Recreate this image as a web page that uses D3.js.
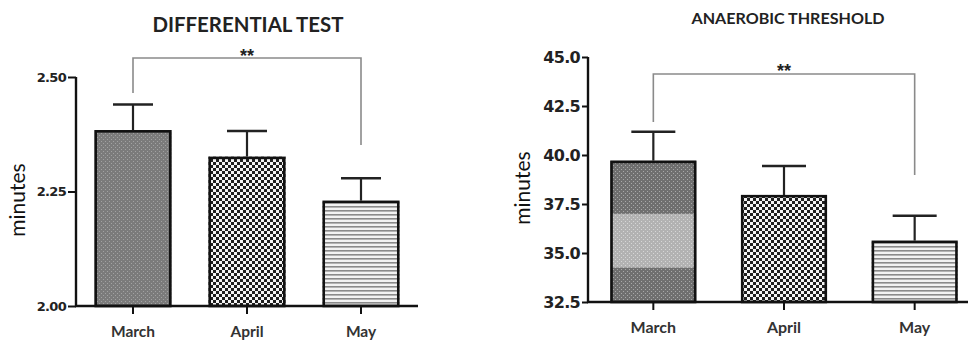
<!DOCTYPE html>
<html>
<head>
<meta charset="utf-8">
<script src="https://cdn.jsdelivr.net/npm/d3@7"></script>
<style>
  body { margin: 0; background: #fff; }
  svg { display: block; }
</style>
</head>
<body>
<svg id="chart" width="968" height="344"></svg>
<script>
// ---------- data ----------
const months = ["March", "April", "May"];

const diffTitle = "DIFFERENTIAL TEST";
const diffMeans = [2.384, 2.326, 2.230];
const diffUpper = [2.440, 2.382, 2.279];
const diffTicks = [2.00, 2.25, 2.50];
const diffDomain = [2.0, 2.5];

const atTitle = "ANAEROBIC THRESHOLD";
const atMeans = [39.71, 37.96, 35.63];
const atUpper = [41.19, 39.44, 36.90];
const atTicks = [32.5, 35.0, 37.5, 40.0, 42.5, 45.0];
const atDomain = [32.5, 45.0];
const atMarchLightBand = [34.25, 37.0];   // lighter shading inside the March bar

const sigPair = ["March", "May"];
const sigLabel = "**";
const yLabel = "minutes";

// ---------- drawing ----------
const svg = d3.select("#chart");
const defs = svg.append("defs");

function dotPattern(id, bg, dot) {
  const p = defs.append("pattern").attr("id", id).attr("patternUnits", "userSpaceOnUse")
    .attr("width", 4).attr("height", 4);
  p.append("rect").attr("width", 4).attr("height", 4).attr("fill", bg);
  p.append("rect").attr("x", 1).attr("y", 1).attr("width", 1).attr("height", 1).attr("fill", dot);
  p.append("rect").attr("x", 3).attr("y", 3).attr("width", 1).attr("height", 1).attr("fill", dot);
}
dotPattern("marchL", "#7b7b7b", "#a2a2a2");
dotPattern("marchR", "#6f6f6f", "#a8a8a8");
dotPattern("marchRLight", "#b2b2b2", "#d6d6d6");

(function () {
  const p = defs.append("pattern").attr("id", "april").attr("patternUnits", "userSpaceOnUse")
    .attr("width", 6).attr("height", 6);
  p.append("rect").attr("width", 6).attr("height", 6).attr("fill", "#1e1e1e");
  p.append("rect").attr("x", 0).attr("y", 0).attr("width", 3).attr("height", 3).attr("fill", "#f4f4f4");
  p.append("rect").attr("x", 3).attr("y", 3).attr("width", 3).attr("height", 3).attr("fill", "#f4f4f4");
})();

(function () {
  const p = defs.append("pattern").attr("id", "may").attr("patternUnits", "userSpaceOnUse")
    .attr("width", 4).attr("height", 4);
  p.append("rect").attr("width", 4).attr("height", 4).attr("fill", "#f2f2f2");
  p.append("rect").attr("y", 2).attr("width", 4).attr("height", 1.6).attr("fill", "#8a8a8a");
})();

function drawChart(cfg) {
  const g = svg.append("g");
  const x = d3.scaleBand().domain(months).range(cfg.xRange)
    .paddingInner(cfg.pad).paddingOuter(cfg.pad / 2);
  const y = d3.scaleLinear().domain(cfg.domain).range(cfg.yRange);

  g.append("text")
    .attr("x", cfg.titleX).attr("y", cfg.titleY)
    .attr("text-anchor", "middle")
    .attr("font-family", "Lato, 'Open Sans', sans-serif")
    .attr("font-weight", "bold")
    .attr("font-size", cfg.titleSize)
    .attr("textLength", cfg.titleLen)
    .attr("lengthAdjust", "spacingAndGlyphs")
    .attr("fill", "#222")
    .text(cfg.title);

  g.append("text")
    .attr("transform", `translate(${cfg.yLabelX},${cfg.yLabelY}) rotate(-90)`)
    .attr("text-anchor", "middle")
    .attr("font-family", "Lato, 'Open Sans', sans-serif")
    .attr("font-size", cfg.yLabelSize)
    .attr("fill", "#111")
    .text(yLabel);

  const fills = cfg.fills;

  g.selectAll("rect.bar").data(months).join("rect")
    .attr("class", "bar")
    .attr("x", d => x(d))
    .attr("y", (d, i) => y(cfg.means[i]))
    .attr("width", x.bandwidth())
    .attr("height", (d, i) => y(cfg.domain[0]) - y(cfg.means[i]))
    .attr("fill", (d, i) => `url(#${fills[i]})`);

  if (cfg.band) {
    g.append("rect")
      .attr("x", x(months[0]))
      .attr("y", y(cfg.band[1]))
      .attr("width", x.bandwidth())
      .attr("height", y(cfg.band[0]) - y(cfg.band[1]))
      .attr("fill", "url(#marchRLight)");
  }

  g.selectAll("rect.outline").data(months).join("rect")
    .attr("class", "outline")
    .attr("x", d => x(d) + 1.2)
    .attr("y", (d, i) => y(cfg.means[i]) + 1.2)
    .attr("width", x.bandwidth() - 2.4)
    .attr("height", (d, i) => y(cfg.domain[0]) - y(cfg.means[i]) - 1.2)
    .attr("fill", "none")
    .attr("stroke", "#111")
    .attr("stroke-width", 2.6);

  const cx = d => x(d) + x.bandwidth() / 2;
  g.selectAll("line.err").data(months).join("line")
    .attr("class", "err")
    .attr("x1", cx).attr("x2", cx)
    .attr("y1", (d, i) => y(cfg.means[i]))
    .attr("y2", (d, i) => y(cfg.upper[i]))
    .attr("stroke", "#222").attr("stroke-width", 2.2);
  g.selectAll("line.cap").data(months).join("line")
    .attr("class", "cap")
    .attr("x1", d => cx(d) - cfg.capHalf).attr("x2", d => cx(d) + cfg.capHalf)
    .attr("y1", (d, i) => y(cfg.upper[i]))
    .attr("y2", (d, i) => y(cfg.upper[i]))
    .attr("stroke", "#222").attr("stroke-width", 2.6);

  const yAxis = d3.axisLeft(y).tickValues(cfg.ticks).tickSize(cfg.yTick).tickPadding(2)
    .tickFormat(d => cfg.fmt(d));
  const ya = g.append("g").attr("transform", `translate(${cfg.xRange[0]},0)`).call(yAxis);
  ya.select(".domain").attr("stroke", "#111").attr("stroke-width", 2.4)
    .attr("d", `M0,${y(cfg.domain[1])}V${y(cfg.domain[0])}`);
  ya.selectAll(".tick line").attr("stroke", "#111").attr("stroke-width", 2);
  ya.selectAll(".tick text")
    .attr("font-family", "'DejaVu Sans', Verdana, sans-serif")
    .attr("font-weight", "bold")
    .attr("font-size", cfg.tickSize)
    .attr("letter-spacing", cfg.tickSpacing)
    .attr("fill", "#222");

  const xAxis = d3.axisBottom(x).tickSize(cfg.xTick).tickPadding(cfg.xPad);
  const xa = g.append("g").attr("transform", `translate(0,${y(cfg.domain[0])})`).call(xAxis);
  xa.select(".domain").attr("stroke", "#111").attr("stroke-width", 2.4)
    .attr("d", `M${cfg.xRange[0] - 1},0H${cfg.xEnd}`);
  xa.selectAll(".tick line").attr("stroke", "#111").attr("stroke-width", 2);
  xa.selectAll(".tick text")
    .attr("font-family", "Lato, 'Open Sans', sans-serif")
    .attr("font-weight", "bold")
    .attr("font-size", cfg.xLabelSize)
    .attr("fill", "#333");

  const xa1 = cx(sigPair[0]), xa2 = cx(sigPair[1]);
  const by = cfg.bracketY;
  g.append("path")
    .attr("d", `M${xa1},${cfg.legL}V${by}H${xa2}V${cfg.legR}`)
    .attr("fill", "none").attr("stroke", "#8a8a8a").attr("stroke-width", 1.6);
  g.append("text")
    .attr("x", (xa1 + xa2) / 2).attr("y", cfg.starY)
    .attr("text-anchor", "middle")
    .attr("font-family", "'Liberation Sans', Arial, sans-serif")
    .attr("font-weight", "bold")
    .attr("font-size", 18)
    .attr("fill", "#222")
    .text(sigLabel);
}

drawChart({
  title: diffTitle, titleX: 248, titleY: 32, titleSize: 20, titleLen: 191,
  yLabelX: 25, yLabelY: 200, yLabelSize: 21,
  xRange: [76, 418], xEnd: 418, pad: 0.325,
  domain: diffDomain, yRange: [306, 77],
  means: diffMeans, upper: diffUpper, ticks: diffTicks,
  fmt: d3.format(".2f"), tickSize: 13, tickSpacing: -0.7,
  fills: ["marchL", "april", "may"],
  capHalf: 20, yTick: 8, xTick: 8, xPad: 12, xLabelSize: 15.5,
  bracketY: 58, legL: 93, legR: 145, starY: 62
});

drawChart({
  title: atTitle, titleX: 788, titleY: 24, titleSize: 15, titleLen: 193,
  yLabelX: 530, yLabelY: 188, yLabelSize: 21,
  xRange: [588, 980], xEnd: 968, pad: 0.342,
  domain: atDomain, yRange: [302, 57],
  means: atMeans, upper: atUpper, ticks: atTicks, band: atMarchLightBand,
  fmt: d3.format(".1f"), tickSize: 16, tickSpacing: -0.7,
  fills: ["marchR", "april", "may"],
  capHalf: 22, yTick: 6, xTick: 8, xPad: 12, xLabelSize: 16,
  bracketY: 74, legL: 122, legR: 175, starY: 77
});
</script>
</body>
</html>
